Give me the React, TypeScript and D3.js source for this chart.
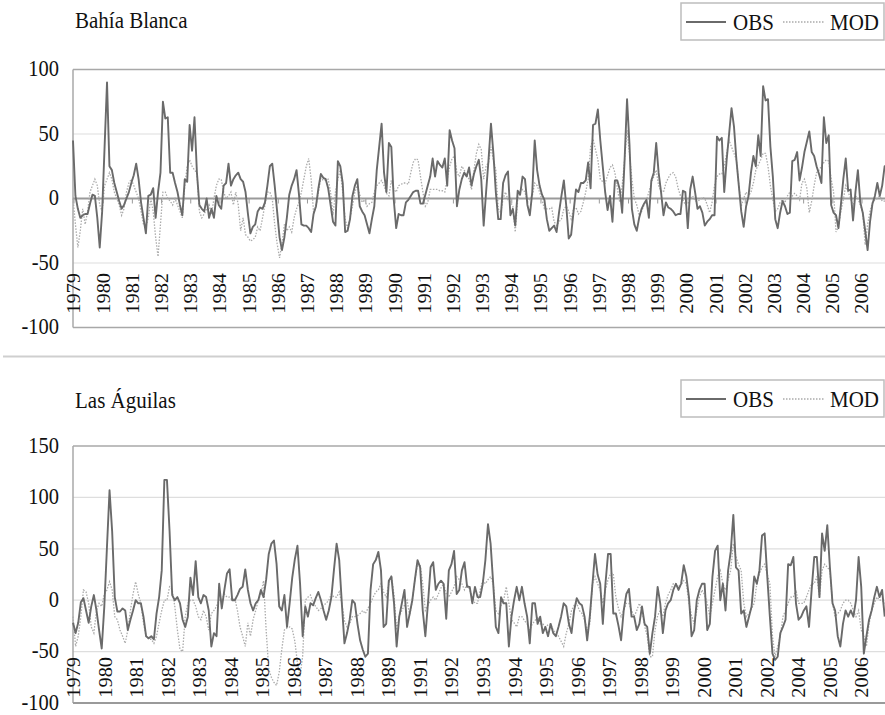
import React from "react";
import * as d3 from "d3";

// ---------- DATA ----------
const yearsTop = ["1979","1980","1981","1982","1983","1984","1985","1986","1987","1988","1989","1990","1991","1992","1993","1994","1995","1996","1997","1998","1999","2000","2001","2002","2003","2004","2005","2006"];
const yearsBottom = ["1979","1980","1981","1982","1983","1984","1985","1986","1987","1988","1989","1991","1992","1993","1994","1995","1996","1997","1998","1999","2000","2001","2002","2004","2005","2006"];

const bahiaObs = [
  45, 2, -8, -15, -13, -12, -12, -4, 3, 2, -15, -38,
  -10, 40, 90, 25, 22, 12, 5, -2, -8, -5, 0, 5,
  12, 18, 27, 15, -3, -15, -27, 2, 3, 8, -15, 5,
  20, 75, 62, 63, 20, 20, 12, 5, -5, -13, 15, 13,
  57, 37, 63, 20, -5, -8, -10, 0, -15, -8, -15, 2,
  -5, -8, 10, 12, 27, 10, 15, 18, 20, 15, 13, 5,
  -12, -27, -22, -20, -10, -7, -8, -3, 10, 25, 27, 10,
  -10, -30, -40, -30, -15, 3, 10, 15, 22, 3, -20, -21,
  -21, -23, -26, -12, -6, 8, 19, 16, 15, 8, -5, -18,
  -21, 29, 25, 12, -26, -25, -16, 2, 10, 15, -6, -10,
  -13, -20, -27, -16, -6, 22, 40, 58, 20, 5, 43, 40,
  -1, -23, -12, -13, -13, -3, -1, 2, 5, 6, 6, -4,
  -4, 3, 10, 17, 31, 17, 29, 26, 24, 31, 10, 53,
  45, 39, -6, 7, 15, 20, 17, 24, 10, 19, 25, 30,
  15, -21, 5, 30, 58, 35, 5, -16, -16, 12, 18, 21,
  -13, -8, -21, 6, 3, 17, 15, -5, -13, 5, 45, 22,
  10, 3, -1, -16, -25, -23, -21, -26, -11, 2, 14, -6,
  -31, -28, -10, 7, 5, 12, 12, 14, 28, 8, 57, 58,
  69, 45, 25, 5, -9, 2, -18, 14, 14, 7, -11, 30,
  77, 42, -8, -20, -25, -15, -8, -4, -1, -15, 14, 20,
  43, 20, 5, -13, -3, -7, -8, -10, -13, -12, -12, 6,
  5, -23, 7, 17, 5, -8, -6, -11, -21, -18, -16, -13,
  -13, 48, 45, 47, 5, 30, 50, 70, 56, 30, 10, -10,
  -22, -6, 2, 20, 33, 25, 49, 33, 87, 76, 77, 40,
  17, -16, -23, -11, -2, -6, -12, -11, 29, 30, 36, 14,
  24, 36, 44, 52, 36, 33, 25, 19, 12, 63, 43, 49,
  -5, -11, -13, -23, -5, 15, 31, 6, 7, -17, 5, 22,
  -3, -11, -25, -40, -18, -4, 2, 12, 2, 10, 25, 25,
];

const bahiaMod = [
  0, -20, -38, -25, -8, -20, -10, 5, 10, 15, 10, -5,
  -10, 10, 15, 20, 15, 5, 0, -5, -13, -8, 5, 12,
  15, 10, 5, 0, -10, -20, -22, -15, 0, -10, -30, -45,
  -20, 5, 5, 0, -2, -5, 0, -5, -10, -15, 10, 25,
  30, 25, 22, 20, -10, -15, -12, -8, -5, -12, 0, 10,
  15, 15, 5, 0, 2, 5, -5, 5, -5, -25, -15, -28,
  -30, -33, -32, -30, -22, -25, -15, -5, 5, 5, 0, -20,
  -35, -46, -35, -20, -25, -22, -26, -15, -8, -3, 5, 15,
  25, 31, 15, -11, -6, 5, 16, 14, 14, 15, 5, -13,
  5, 15, 22, 5, -16, -23, -15, -6, 5, 10, 3, -3,
  -1, -6, -4, -3, 5, 10, 12, 14, 10, 4, 2, 14,
  7, 5, 10, 11, 12, 12, 11, 20, 28, 31, 30, 17,
  5, -6, -3, 7, 7, 7, 7, 6, 6, 5, 15, 25,
  31, 33, 20, 17, 25, 22, 18, 15, 7, 22, 35, 42,
  38, 15, 25, 28, 40, 30, 22, -8, -11, 0, 5, -1,
  -3, -6, -26, -1, 5, 7, 5, -3, 0, 2, 12, 10,
  5, -1, -8, -8, -8, -7, -18, -21, -18, -16, -8, -6,
  -10, -16, -8, -7, -12, -10, -3, 5, 15, 40, 46, 38,
  30, 15, 13, 12, 18, 24, 26, 20, 8, -3, 10, 30,
  53, 35, 15, 0, -5, -13, -10, -5, -1, 5, 12, 17,
  22, 10, 6, 5, 12, 16, 19, 20, 17, 8, 2, -1,
  -5, -4, 0, 2, -2, -2, -1, 1, 0, -5, -11, -3,
  10, 17, 19, 19, 25, 35, 45, 40, 35, 30, 10, -6,
  0, 5, 2, 5, 12, 22, 26, 30, 35, 35, 25, 10,
  -1, -10, -8, -3, -1, -3, 2, 5, 2, 4, 2, -1,
  12, 15, 8, -11, -2, 10, 20, 22, 25, 28, 30, 29,
  15, 5, -26, -22, -10, -1, 10, 5, 0, -6, 2, 0,
  -5, -11, -36, -20, -10, -3, -1, 0, 2, -2, -2, 0,
];

const aguilasObs = [
  -22, -32, -22, -2, 2, -10, -22, -6, 5, -10, -29, -47,
  -6, 51, 107, 67, 3, -11, -11, -8, -10, -29, -19, -10,
  0, -3, -3, -16, -35, -37, -35, -38, -13, 3, 29, 117,
  117, 67, 5, 0, 3, -3, -19, -26, -16, 22, 5, 38,
  3, -3, 5, 3, -10, -45, -32, -35, 16, -8, 10, 26,
  30, 0, 0, 5, 11, 13, 30, 10, -3, -10, -3, 0,
  10, 3, 20, 45, 55, 58, 35, -6, -10, 5, -26, -3,
  22, 40, 53, 16, -35, -6, -16, -3, -5, 2, 8, 0,
  -10, -19, -10, 3, 30, 55, 39, -3, -42, -32, -19, 0,
  -3, -23, -39, -48, -55, -52, 10, 35, 39, 47, 29, -26,
  -23, 19, 23, -3, -45, -16, -3, 10, -26, -13, 0, 20,
  39, 32, -10, -35, -3, 32, 37, 10, 16, 19, 16, -18,
  29, 35, 48, 6, 10, 29, 37, 13, 13, -3, 13, 3,
  3, 16, 39, 74, 55, 16, -26, -32, 3, -3, -3, -45,
  -16, 0, 13, 0, 13, -3, -16, -42, -3, -3, -23, -16,
  -32, -26, -35, -23, -32, -35, -26, -16, -3, -6, -23, -32,
  -10, 2, -3, -5, -16, -39, -16, 15, 45, 25, 16, -23,
  16, 45, 45, -13, -13, -25, -39, -10, 6, 11, -16, -16,
  -29, -23, -6, -23, -26, -52, -32, -16, 13, -3, -32, -10,
  -3, 0, 10, 16, 10, 16, 34, 23, 3, -35, -29, 0,
  10, 16, 16, -29, -23, 23, 48, 53, 0, 16, -10, 29,
  47, 83, 32, 29, -13, -10, -26, -16, -6, 23, 16, 29,
  63, 65, 23, -16, -52, -58, -55, -32, -26, -19, 35, 34,
  42, -3, -19, -16, -10, -6, -26, 10, 42, 42, 3, 65,
  48, 73, 32, -3, -10, -35, -45, -23, -10, -16, -10, -16,
  0, 42, 13, -52, -35, -19, -10, 3, 13, 3, 10, -16,
];

const aguilasMod = [
  -16, -45, -35, -16, 10, 8, -3, -26, -32, -10, -3, -6,
  6, 10, 18, 10, -16, -19, -29, -35, -42, -29, -10, 6,
  18, 6, -3, -22, -35, -38, -38, -42, -35, -22, -10, 0,
  0, 13, 10, -6, -29, -48, -50, -16, -3, 0, 0, -6,
  -16, -19, -10, -16, -29, -13, -10, -6, 0, 0, 6, 3,
  3, 0, 2, -10, -26, -35, -45, -22, -35, -19, -10, 0,
  6, 19, -29, -67, -75, -80, -83, -70, -48, -29, -27, -26,
  -28, -40, -61, -74, -54, 0, 3, 5, -3, -6, -10, -8,
  -5, -3, 0, 6, 3, 3, 8, -3, -20, -26, -23, -16,
  -16, -15, -13, -10, -13, -8, -3, 3, 8, 10, 16, 8,
  3, 16, 24, 5, -29, -16, -10, -5, 0, -15, 0, 20,
  35, 35, 16, -10, -5, 0, 3, 0, 6, 12, 16, 6,
  3, 8, 13, 23, 20, 16, 10, 16, 10, 3, -3, -3,
  10, 19, 16, 20, 23, 16, -10, -13, -5, 0, 13, -3,
  -19, -22, -26, -16, -16, -20, -23, -29, -23, -20, -16, -23,
  -23, -26, -24, -23, -29, -32, -35, -40, -45, -32, -23, -10,
  -5, -3, -10, -13, -19, -29, -23, 16, 23, 16, 10, -3,
  10, 20, 26, 26, 3, -8, -16, -10, -3, -3, -10, -16,
  -10, -3, -10, -25, -35, -55, -55, -29, -15, -10, -16, -3,
  5, 10, 16, 16, 13, 15, 19, 16, -3, -15, -23, -10,
  3, 10, 5, -3, -16, -3, 10, 23, 29, 16, 10, 20,
  29, 55, 42, 35, 29, -3, -16, -13, -8, -3, 16, 26,
  32, 35, 25, 16, -35, -55, -45, -35, -16, -10, -3, 3,
  3, 10, -3, -3, -3, 3, 10, 16, 16, 23, 3, 29,
  35, 32, 29, -3, -16, -13, -10, -3, 0, 0, -3, -10,
  -16, -10, -29, -35, -45, -23, -10, -3, 3, 0, 0, -3,
];

const ticksTop = [100, 50, 0, -50, -100];
const ticksBottom = [150, 100, 50, 0, -50, -100];
const seriesNames = ["OBS", "MOD"];

// ---------- STYLE ----------
const FONT = "'Liberation Serif', 'Times New Roman', serif";
const OBS_COLOR = "#6a6a6a";
const MOD_COLOR = "#ababab";

function Label(props: { x: number; y: number; anchor?: string; size?: number; dy?: string; children: React.ReactNode }) {
  return (
    <text
      transform={`translate(${props.x},${props.y}) scale(1,1.12)`}
      dy={props.dy || "0.35em"}
      textAnchor={props.anchor || "start"}
      fontFamily={FONT}
      fontSize={props.size || 21}
      fill="#111"
    >
      {props.children}
    </text>
  );
}

type PanelProps = {
  title: string;
  obs: number[];
  mod: number[];
  labels: string[];
  ticks: number[];
  yDomain: [number, number];
  yTop: number;
  yBottom: number;
  step: number;
  axisValue: number;
  labelEndY: number;
  labelRange: [number, number];
  titleY: number;
  legendY: number;
  axisTicks: boolean;
};

function Panel(p: PanelProps) {
  const left = 73;
  const right = 890;
  const x = d3.scaleLinear().domain([0, p.obs.length - 1]).range([left, left + (p.obs.length - 1) * p.step]);
  const y = d3.scaleLinear().domain(p.yDomain).range([p.yBottom, p.yTop]);
  const lx = d3.scalePoint<string>().domain(p.labels).range(p.labelRange);
  const line = d3.line<number>().x((_, i) => x(i)).y((d) => y(d));
  const grid = p.ticks.filter((t) => t !== p.yDomain[0] && t !== p.yDomain[1] && t !== p.axisValue);
  return (
    <g>
      <Label x={75} y={p.titleY}>{p.title}</Label>
      {/* legend */}
      <g transform={`translate(0,${p.legendY})`}>
        <rect x={681} y={0} width={203} height={37} fill="#fff" stroke="#bdbdbd" strokeWidth={1.5} />
        <line x1={686} x2={726} y1={19} y2={19} stroke={OBS_COLOR} strokeWidth={2} />
        <Label x={733} y={19}>{seriesNames[0]}</Label>
        <line x1={783} x2={825} y1={19} y2={19} stroke={MOD_COLOR} strokeWidth={1.3} strokeDasharray="1.5 1.5" />
        <Label x={830} y={19}>{seriesNames[1]}</Label>
      </g>
      {/* gridlines */}
      {grid.map((t) => (
        <line key={"g" + t} x1={left} x2={right} y1={y(t)} y2={y(t)} stroke="#dedede" strokeWidth={1.2} />
      ))}
      {/* frame */}
      <line x1={left} x2={right} y1={y(p.yDomain[1])} y2={y(p.yDomain[1])} stroke="#a8a8a8" strokeWidth={1.5} />
      <line x1={left} x2={right} y1={y(p.yDomain[0])} y2={y(p.yDomain[0])} stroke="#a8a8a8" strokeWidth={1.5} />
      <line x1={left} x2={left} y1={y(p.yDomain[1])} y2={y(p.yDomain[0])} stroke="#a8a8a8" strokeWidth={1.5} />
      {/* y tick labels */}
      {p.ticks.map((t) => (
        <Label key={"t" + t} x={59} y={y(t)} anchor="end" size={20.5} dy="0.3em">{t}</Label>
      ))}
      {/* axis */}
      <line x1={left} x2={right} y1={y(p.axisValue)} y2={y(p.axisValue)} stroke="#9a9a9a" strokeWidth={2} />
      {p.axisTicks && p.labels.map((l) => (
        <line key={"k" + l} x1={lx(l)} x2={lx(l)} y1={y(p.axisValue)} y2={y(p.axisValue) + 5} stroke="#9a9a9a" strokeWidth={1} />
      ))}
      {/* series */}
      <path d={line(p.mod) || ""} fill="none" stroke={MOD_COLOR} strokeWidth={1.3} strokeDasharray="1.5 1.5" />
      <path d={line(p.obs) || ""} fill="none" stroke={OBS_COLOR} strokeWidth={1.9} strokeLinejoin="round" />
      {/* x labels */}
      {p.labels.map((l) => (
        <text
          key={"x" + l}
          transform={`translate(${lx(l)},${p.labelEndY}) rotate(-90) scale(1.1,1)`}
          dy="0.35em"
          textAnchor="end"
          fontFamily={FONT}
          fontSize={18.5}
          fill="#111"
        >
          {l}
        </text>
      ))}
    </g>
  );
}

export default function App() {
  return (
    <svg width={885} height={715} style={{ position: "absolute", left: 0, top: 0, background: "#fff" }}>
      <rect x={0} y={0} width={885} height={715} fill="#fff" />
      <Panel
        title="Bahía Blanca"
        obs={bahiaObs}
        mod={bahiaMod}
        labels={yearsTop}
        ticks={ticksTop}
        yDomain={[-100, 100]}
        yTop={69.5}
        yBottom={327.5}
        step={2.43}
        axisValue={0}
        labelEndY={273}
        labelRange={[74, 862]}
        titleY={20}
        legendY={3}
        axisTicks={true}
      />
      <line x1={3} x2={885} y1={356.5} y2={356.5} stroke="#cfcfcf" strokeWidth={2} />
      <Panel
        title="Las Águilas"
        obs={aguilasObs}
        mod={aguilasMod}
        labels={yearsBottom}
        ticks={ticksBottom}
        yDomain={[-100, 150]}
        yTop={446}
        yBottom={703}
        step={2.61}
        axisValue={-100}
        labelEndY={657}
        labelRange={[73.5, 862]}
        titleY={400}
        legendY={380}
        axisTicks={false}
      />
    </svg>
  );
}
